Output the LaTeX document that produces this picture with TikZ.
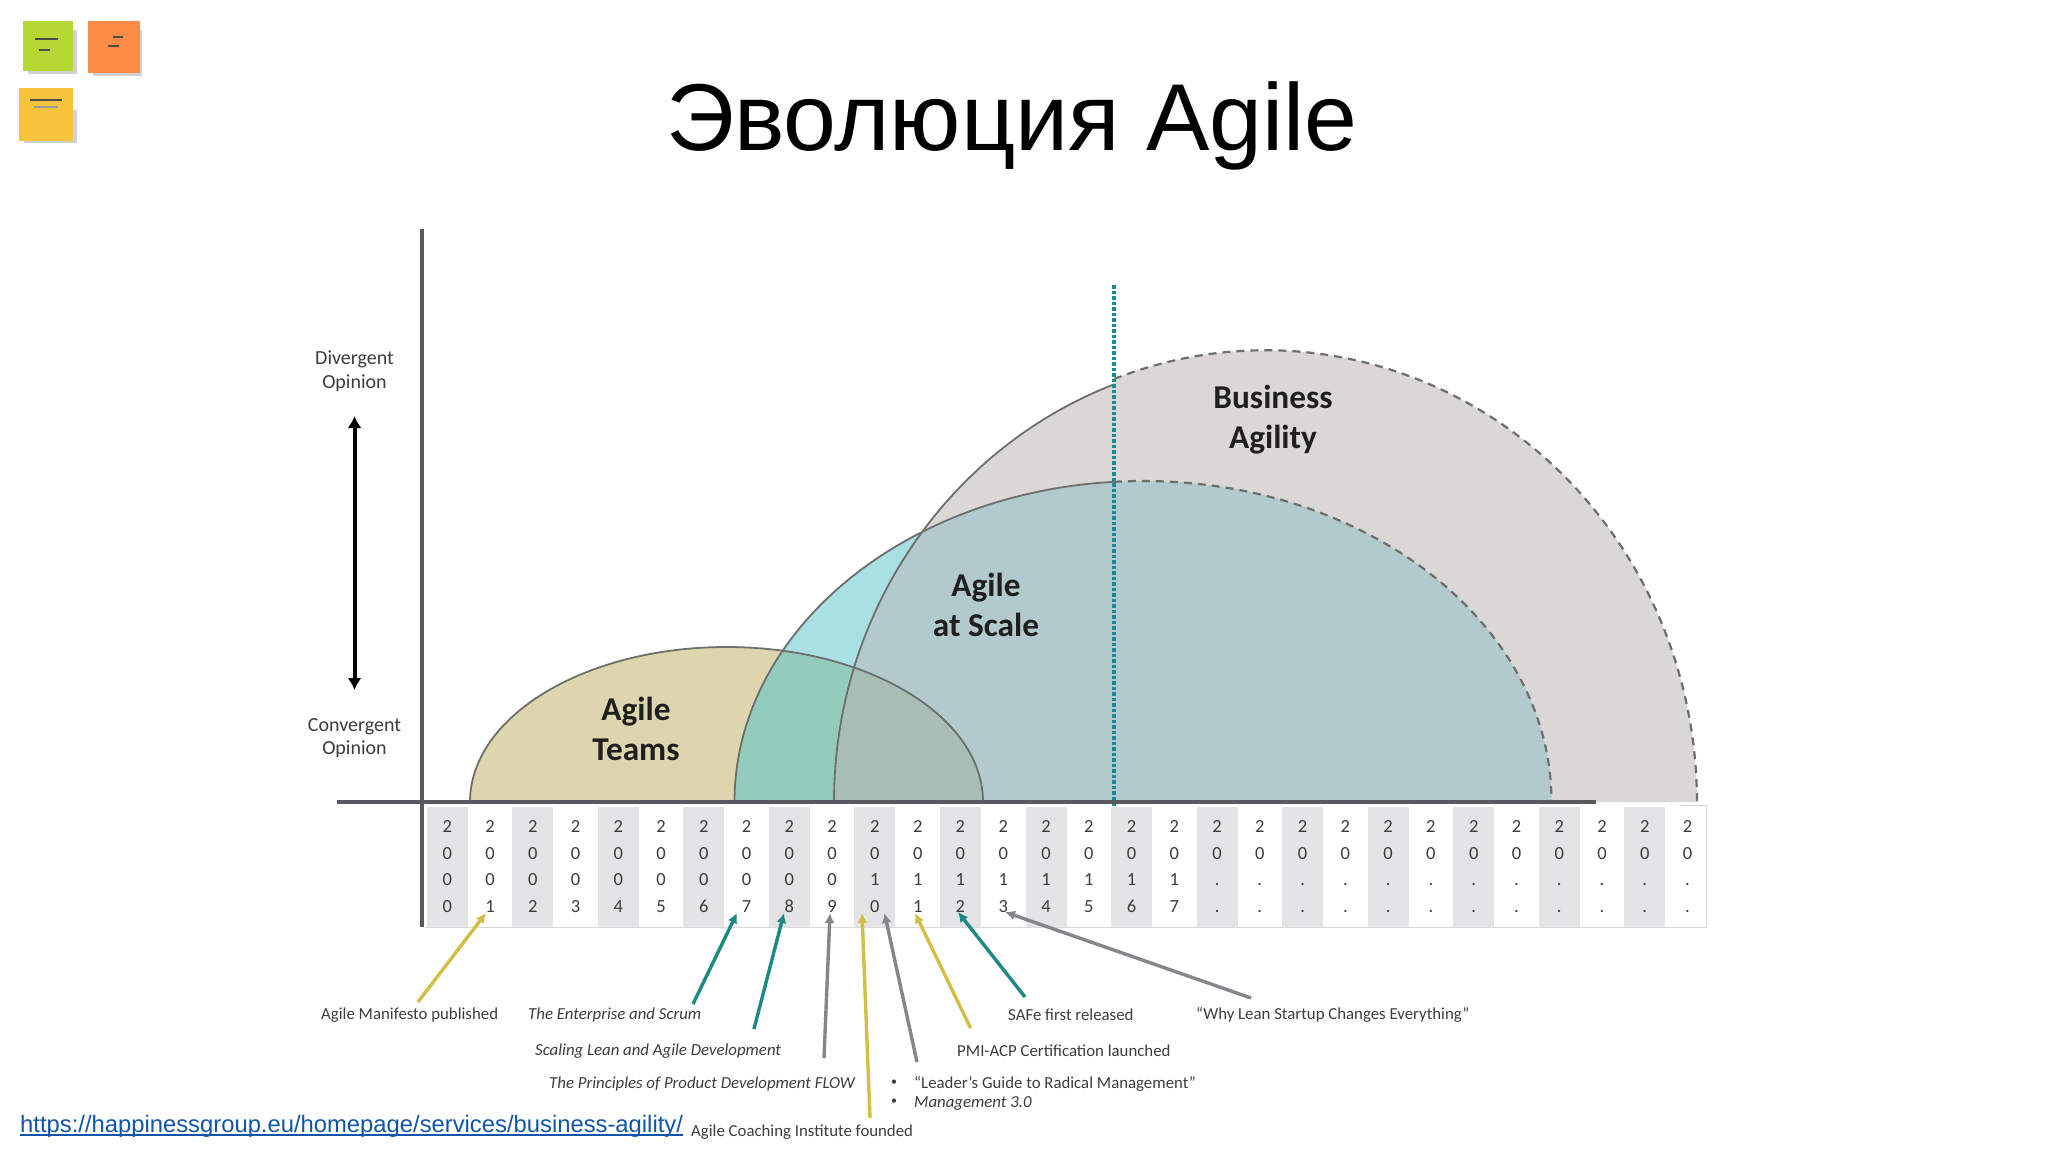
\documentclass[tikz,border=0pt]{standalone}
\usepackage{fontspec}
\setmainfont{Carlito}
\newfontfamily\titlefont{Liberation Sans}
\usetikzlibrary{arrows.meta}
\definecolor{axisgray}{HTML}{5A5A5E}
\definecolor{labelgray}{HTML}{3C3C3C}
\definecolor{cellgray}{HTML}{E4E4E6}
\definecolor{teamstan}{HTML}{DDD5AE}
\definecolor{scalecyan}{HTML}{A8E0E4}
\definecolor{bizgray}{HTML}{DAD7D6}
\definecolor{teamscale}{HTML}{93CBBD}
\definecolor{scalebiz}{HTML}{B2C9CD}
\definecolor{teamsbiz}{HTML}{A8BDB6}
\definecolor{arcline}{HTML}{6D6F6B}
\definecolor{mustard}{HTML}{D4BE45}
\definecolor{tealline}{HTML}{1B8A84}
\definecolor{arrowgray}{HTML}{85858A}
\definecolor{dropline}{HTML}{1D8A91}
\definecolor{linkblue}{HTML}{1155AA}
\tikzset{
    yearcell/.style={minimum width=41pt,minimum height=120pt,inner sep=0pt,align=center,font=\fontsize{18.5}{26.4}\selectfont,text=labelgray},
    yeargray/.style={yearcell,fill=cellgray},
    note/.style={font=\fontsize{16.8}{19}\selectfont,text=labelgray,inner sep=0pt,anchor=west},
    noteit/.style={note,font=\fontsize{16.8}{19}\selectfont\itshape},
    axisnote/.style={font=\fontsize{20}{23.5}\selectfont,text=labelgray,align=center,inner sep=0pt},
    stage/.style={font=\fontsize{33.3}{40}\selectfont\bfseries,text=black!88,align=center,inner sep=0pt},
    pointer/.style={line width=3.4pt,-{Latex[length=10pt,width=10pt]}},
    squiggle/.style={line width=1.6pt,black!70},
    solidarc/.style={draw=arcline,line width=1.8pt},
    dashedarc/.style={draw=arcline,line width=2.2pt,dash pattern=on 8pt off 6pt},
}
\def\teamsarc{(470,802) arc[start angle=180,end angle=360,x radius=256.5,y radius=155] -- cycle}
\def\scalearc{(734.5,802) arc[start angle=180,end angle=360,x radius=408.5,y radius=321] -- cycle}
\def\bizarc{(834,802) arc[start angle=180,end angle=249.45,x radius=431.5,y radius=446] -- (1114,379) arc[start angle=249.45,end angle=360,x radius=431.5,y radius=452] -- cycle}
\begin{document}
\begin{tikzpicture}[x=1pt,y=-1pt]
    \useasboundingbox (0,0) rectangle (2048,1152);
    % sticky notes
    \fill[black!18] (28,30) rectangle (77,74);
    \fill[black!18] (93,30) rectangle (142,76);
    \fill[black!18] (24,110) rectangle (77,143);
    \node[fill={rgb,255:red,183;green,215;blue,51},minimum width=50pt,minimum height=50pt,inner sep=0pt] (green) at (48,46) {};
    \node[fill={rgb,255:red,251;green,140;blue,69},minimum width=52pt,minimum height=52pt,inner sep=0pt] (orange) at (114,47) {};
    \node[fill={rgb,255:red,248;green,196;blue,62},minimum width=54pt,minimum height=53pt,inner sep=0pt] (yellow) at (46,114) {};
    \draw[squiggle] (35,39) -- (58,39);
    \draw[squiggle] (39,50) -- (50,50);
    \draw[squiggle] (113,37) -- (123,37);
    \draw[squiggle] (108,46) -- (119,46);
    \draw[squiggle] (30,100) -- (62,100);
    \draw[squiggle,black!40] (34,107) -- (58,107);

    % title
    \node[font=\fontsize{95}{96}\selectfont\titlefont,inner sep=0pt] (title) at (1012,126) {Эволюция Agile};

    % year columns
    \node[yeargray] (y00) at (447.2,866.5) {2\\0\\0\\0};
    \node[yearcell] (y01) at (490.0,866.5) {2\\0\\0\\1};
    \node[yeargray] (y02) at (532.7,866.5) {2\\0\\0\\2};
    \node[yearcell] (y03) at (575.5,866.5) {2\\0\\0\\3};
    \node[yeargray] (y04) at (618.3,866.5) {2\\0\\0\\4};
    \node[yearcell] (y05) at (661.1,866.5) {2\\0\\0\\5};
    \node[yeargray] (y06) at (703.8,866.5) {2\\0\\0\\6};
    \node[yearcell] (y07) at (746.6,866.5) {2\\0\\0\\7};
    \node[yeargray] (y08) at (789.4,866.5) {2\\0\\0\\8};
    \node[yearcell] (y09) at (832.1,866.5) {2\\0\\0\\9};
    \node[yeargray] (y10) at (874.9,866.5) {2\\0\\1\\0};
    \node[yearcell] (y11) at (917.7,866.5) {2\\0\\1\\1};
    \node[yeargray] (y12) at (960.4,866.5) {2\\0\\1\\2};
    \node[yearcell] (y13) at (1003.2,866.5) {2\\0\\1\\3};
    \node[yeargray] (y14) at (1046.0,866.5) {2\\0\\1\\4};
    \node[yearcell] (y15) at (1088.8,866.5) {2\\0\\1\\5};
    \node[yeargray] (y16) at (1131.5,866.5) {2\\0\\1\\6};
    \node[yearcell] (y17) at (1174.3,866.5) {2\\0\\1\\7};
    \node[yeargray] (y18) at (1217.1,866.5) {2\\0\\.\\.};
    \node[yearcell] (y19) at (1259.8,866.5) {2\\0\\.\\.};
    \node[yeargray] (y20) at (1302.6,866.5) {2\\0\\.\\.};
    \node[yearcell] (y21) at (1345.4,866.5) {2\\0\\.\\.};
    \node[yeargray] (y22) at (1388.1,866.5) {2\\0\\.\\.};
    \node[yearcell] (y23) at (1430.9,866.5) {2\\0\\.\\.};
    \node[yeargray] (y24) at (1473.7,866.5) {2\\0\\.\\.};
    \node[yearcell] (y25) at (1516.5,866.5) {2\\0\\.\\.};
    \node[yeargray] (y26) at (1559.2,866.5) {2\\0\\.\\.};
    \node[yearcell] (y27) at (1602.0,866.5) {2\\0\\.\\.};
    \node[yeargray] (y28) at (1644.8,866.5) {2\\0\\.\\.};
    \node[yearcell] (y29) at (1687.5,866.5) {2\\0\\.\\.};
    \draw[black!15,line width=1pt] (425,927) -- (1706,927) -- (1706,805) -- (1680,805);

    % overlapping stages
    \fill[bizgray] \bizarc;
    \fill[scalecyan] \scalearc;
    \fill[teamstan] \teamsarc;
    \begin{scope}
        \clip \scalearc;
        \fill[scalebiz] \bizarc;
        \fill[teamscale] \teamsarc;
        \clip \bizarc;
        \fill[teamsbiz] \teamsarc;
    \end{scope}
    \path[solidarc] (470,802) arc[start angle=180,end angle=360,x radius=256.5,y radius=155];
    \begin{scope}
        \clip (700,200) rectangle (1114,810);
        \path[solidarc] (734.5,802) arc[start angle=180,end angle=360,x radius=408.5,y radius=321];
        \path[solidarc] (834,802) arc[start angle=180,end angle=260,x radius=431.5,y radius=446];
    \end{scope}
    \begin{scope}
        \clip (1114,200) rectangle (1800,810);
        \path[dashedarc] (734.5,802) arc[start angle=180,end angle=360,x radius=408.5,y radius=321];
        \path[dashedarc] (1114,379) arc[start angle=249.45,end angle=360,x radius=431.5,y radius=452];
    \end{scope}

    % axes
    \coordinate (axistop) at (422,229);
    \coordinate (axisbottom) at (422,927);
    \coordinate (axisleft) at (337,802);
    \coordinate (axisright) at (1596,802);
    \coordinate (droptop) at (1114,285);
    \coordinate (dropbottom) at (1114,806);
    \path[draw=dropline,line width=3.2pt,dash pattern=on 3.5pt off 2pt] (droptop) -- (dropbottom);
    \path[draw=axisgray,line width=4.6pt] (axistop) -- (axisbottom);
    \path[draw=axisgray,line width=4.6pt] (axisleft) -- (axisright);

    % opinion scale
    \node[axisnote] (divergent) at (354.5,371) {Divergent\\Opinion};
    \node[axisnote] (convergent) at (354.5,738) {Convergent\\Opinion};
    \coordinate (opiniontop) at (354.5,416);
    \coordinate (opinionbottom) at (354.5,690);
    \path[draw=black,line width=4pt,{Latex[length=12pt,width=14pt]}-{Latex[length=12pt,width=14pt]}] (opiniontop) -- (opinionbottom);

    % stage names
    \node[stage] (biz) at (1273,420) {Business\\Agility};
    \node[stage] (scale) at (986,605) {Agile\\at Scale};
    \node[stage] (teams) at (636,729) {Agile\\Teams};

    % milestones
    \node[note] (manifesto) at (321,1015) {Agile Manifesto published};
    \node[noteit] (enterprise) at (528,1015) {The Enterprise and Scrum};
    \node[noteit] (scaling) at (535,1051) {Scaling Lean and Agile Development};
    \node[noteit] (flow) at (549,1084) {The Principles of Product Development FLOW};
    \node[note] (coaching) at (691,1132) {Agile Coaching Institute founded};
    \node[note] (safe) at (1008,1015) {SAFe first released};
    \node[note] (lean) at (1196,1015) {“Why Lean Startup Changes Everything”};
    \node[note] (pmi) at (957,1051) {PMI-ACP Certification launched};
    \node[note,font=\fontsize{12}{12}\selectfont] (bulleta) at (891,1083) {•};
    \node[note] (leader) at (914,1084) {“Leader’s Guide to Radical Management”};
    \node[note,font=\fontsize{12}{12}\selectfont] (bulletb) at (891,1102) {•};
    \node[noteit] (mgmt) at (914,1103) {Management 3.0};

    % pointers
    \coordinate (t01) at (418,1002);
    \coordinate (h01) at (486,913);
    \coordinate (t07) at (693,1004);
    \coordinate (h07) at (737,913);
    \coordinate (t08) at (754,1029);
    \coordinate (h08) at (784,913);
    \coordinate (t09) at (824,1058);
    \coordinate (h09) at (830,913);
    \coordinate (t10) at (870,1118);
    \coordinate (h10) at (862,913);
    \coordinate (t10b) at (917,1062);
    \coordinate (h10b) at (884.5,913);
    \coordinate (t11) at (970.5,1028);
    \coordinate (h11) at (915,913);
    \coordinate (t12) at (1025,997);
    \coordinate (h12) at (958,912);
    \coordinate (t13) at (1251,998);
    \coordinate (h13) at (1005,912);
    \path [pointer,draw=mustard] (t01) -- (h01);
    \path [pointer,draw=tealline] (t07) -- (h07);
    \path [pointer,draw=tealline] (t08) -- (h08);
    \path [pointer,draw=arrowgray] (t09) -- (h09);
    \path [pointer,draw=mustard] (t10) -- (h10);
    \path [pointer,draw=arrowgray] (t10b) -- (h10b);
    \path [pointer,draw=mustard] (t11) -- (h11);
    \path [pointer,draw=tealline] (t12) -- (h12);
    \path [pointer,draw=arrowgray] (t13) -- (h13);

    % link
    \node[font=\fontsize{23.8}{28}\selectfont\titlefont,text=linkblue,inner sep=0pt,anchor=base west] (url) at (20,1132) {https://happinessgroup.eu/homepage/services/business-agility/};
    \draw[linkblue,line width=1.3pt] (20,1135) -- (683,1135);
\end{tikzpicture}
\end{document}
